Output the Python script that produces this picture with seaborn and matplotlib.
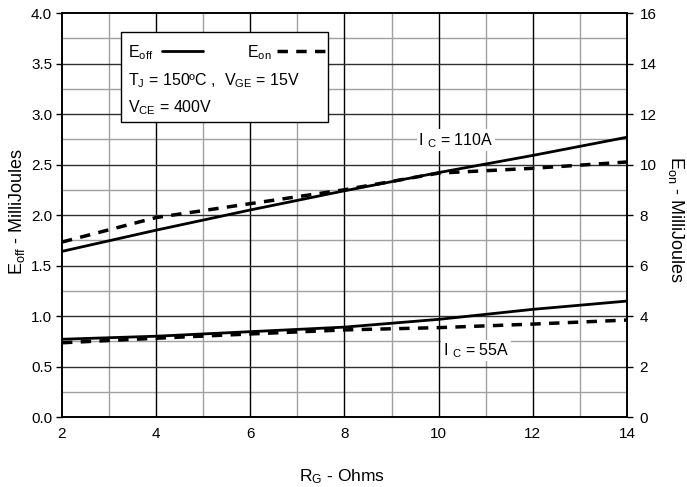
import matplotlib
matplotlib.use("Agg")
import matplotlib.pyplot as plt
import seaborn as sns
import pandas as pd
from matplotlib.lines import Line2D
from matplotlib.patches import Rectangle

rg = [2, 4, 6, 8, 10, 12, 14]
eoff_110 = [1.64, 1.85, 2.05, 2.24, 2.42, 2.59, 2.77]
eon_110 = [6.93, 7.90, 8.45, 9.00, 9.66, 9.85, 10.10]
eoff_55 = [0.77, 0.80, 0.845, 0.89, 0.967, 1.066, 1.148]
eon_55 = [2.94, 3.12, 3.29, 3.45, 3.54, 3.68, 3.84]

sns.set_style("white")
plt.rcParams['font.family'] = ['Liberation Sans', 'DejaVu Sans']
plt.rcParams['mathtext.fontset'] = 'custom'
plt.rcParams['mathtext.rm'] = 'Liberation Sans'
plt.rcParams['mathtext.it'] = 'Liberation Sans'
plt.rcParams['text.color'] = 'black'
plt.rcParams['axes.labelcolor'] = 'black'
plt.rcParams['xtick.color'] = 'black'
plt.rcParams['ytick.color'] = 'black'

fig = plt.figure(figsize=(6.87, 4.87), dpi=100)
ax = fig.add_axes([0.0902, 0.1437, 0.8225, 0.8296])
ax2 = ax.twinx()

df = pd.DataFrame({"rg": rg, "eoff110": eoff_110, "eon110": eon_110,
                   "eoff55": eoff_55, "eon55": eon_55})

ax.set_xlim(2, 14)
ax.set_ylim(0, 4)
ax2.set_ylim(0, 16)

# grid
for x in range(3, 14, 2):
    ax.axvline(x, color='#a0a0a0', lw=1.0, zorder=0)
for x in range(4, 14, 2):
    ax.axvline(x, color='black', lw=1.0, zorder=0.5)
for i in range(1, 16):
    y = i * 0.25
    if i % 2 == 1:
        ax.axhline(y, color='#a0a0a0', lw=1.0, zorder=0)
    else:
        ax.axhline(y, color='#303030', lw=1.0, zorder=0.5)

sns.lineplot(data=df, x="rg", y="eoff110", ax=ax, color='black', lw=2.0, zorder=3)
sns.lineplot(data=df, x="rg", y="eoff55", ax=ax, color='black', lw=2.0, zorder=3)
sns.lineplot(data=df, x="rg", y="eon110", ax=ax2, color='black', lw=2.5, zorder=3,
             dashes=False, linestyle=(0, (3, 2.4)))
sns.lineplot(data=df, x="rg", y="eon55", ax=ax2, color='black', lw=2.5, zorder=3,
             dashes=False, linestyle=(0, (3, 2.4)))

ax.set_xticks(range(2, 15, 2))
ax.set_yticks([0, 0.5, 1.0, 1.5, 2.0, 2.5, 3.0, 3.5, 4.0])
ax.set_yticklabels([f"{v:.1f}" for v in [0, 0.5, 1.0, 1.5, 2.0, 2.5, 3.0, 3.5, 4.0]])
ax2.set_yticks(range(0, 17, 2))

for a in (ax, ax2):
    a.tick_params(direction='out', length=4, width=1, labelsize=11, color='black',
                  labelcolor='black', pad=3)
    for s in a.spines.values():
        s.set_color('black')
        s.set_linewidth(1.2)
ax2.tick_params(pad=5)

ax.set_xlabel(r"R$_\mathregular{G}$ - Ohms", fontsize=12.5)
ax.xaxis.set_label_coords(0.496, -0.125)
ax.set_ylabel(r"E$_\mathregular{off}$ - MilliJoules", fontsize=13, va='center')
ax.yaxis.set_label_coords(-0.080, 0.51)
ax2.set_ylabel(r"E$_\mathregular{on}$ - MilliJoules", fontsize=13, rotation=-90, va='center')
ax2.yaxis.set_label_coords(1.087, 0.49)

# annotation labels
ax.text(9.56, 2.74, r"I $_\mathregular{C}$ = 110A", fontsize=11.5, va='center', ha='left',
        zorder=5, bbox=dict(facecolor='white', edgecolor='none', pad=1))
ax.text(10.09, 0.66, r"I $_\mathregular{C}$ = 55A", fontsize=11.5, va='center', ha='left',
        zorder=5, bbox=dict(facecolor='white', edgecolor='none', pad=1))

# legend-like box
fs = 11.5
ax2.add_patch(Rectangle((0.104, 0.730), 0.367, 0.223, transform=ax2.transAxes,
                        facecolor='white', edgecolor='black', lw=1.0, zorder=6))
ax2.text(0.117, 0.901, r"E$_\mathregular{off}$", transform=ax2.transAxes, fontsize=fs,
         va='center', ha='left', zorder=7)
ax2.add_line(Line2D([0.177, 0.250], [0.905, 0.905], transform=ax2.transAxes,
                    color='black', lw=2.0, zorder=7))
ax2.text(0.327, 0.901, r"E$_\mathregular{on}$", transform=ax2.transAxes, fontsize=fs,
         va='center', ha='left', zorder=7)
ax2.add_line(Line2D([0.381, 0.468], [0.905, 0.905], transform=ax2.transAxes,
                    color='black', lw=2.5, linestyle=(0, (3, 2.4)), zorder=7))
ax2.text(0.117, 0.832, r"T$_\mathregular{J}$ = 150ºC ,  V$_\mathregular{GE}$ = 15V",
         transform=ax2.transAxes, fontsize=fs, va='center', ha='left', zorder=7)
ax2.text(0.117, 0.765, r"V$_\mathregular{CE}$ = 400V",
         transform=ax2.transAxes, fontsize=fs, va='center', ha='left', zorder=7)

fig.savefig("out.png", dpi=100)
